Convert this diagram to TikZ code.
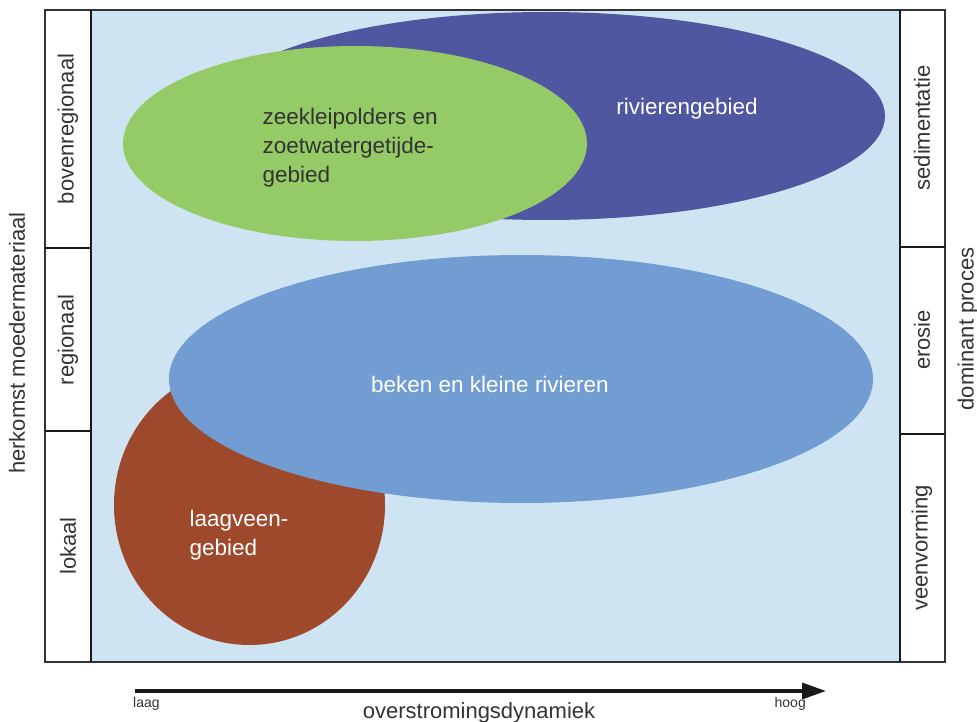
\documentclass[tikz,border=0pt]{standalone}
\usepackage{fontspec}
\setmainfont{Liberation Sans}
\usepackage{tikz}
\usetikzlibrary{arrows.meta}

\definecolor{veldblauw}{HTML}{CFE4F3}
\definecolor{rivierblauw}{HTML}{4E57A0}
\definecolor{kleigroen}{HTML}{95CB66}
\definecolor{bekenblauw}{HTML}{729DD2}
\definecolor{veenbruin}{HTML}{9E482C}
\definecolor{tekstgrijs}{HTML}{333333}

\tikzset{
    kolomtekst/.style={rotate=90, text=tekstgrijs, font=\fontsize{22}{26}\selectfont},
    vlaktekst/.style={align=left, anchor=north west, font=\fontsize{22.5}{29}\selectfont},
    astekst/.style={text=tekstgrijs, font=\fontsize{14}{16}\selectfont}
}

\begin{document}
\begin{tikzpicture}[x=1pt,y=-1pt]
    \useasboundingbox (0,0) rectangle (977,722);

    % draw background field
    \fill[veldblauw] (91,10) rectangle (900,662);

    % draw areas
    \fill[veenbruin] (249.5,505) ellipse [x radius=135.5, y radius=140];
    \fill[bekenblauw] (521,379) ellipse [x radius=352, y radius=124];
    \fill[rivierblauw] (546,116) ellipse [x radius=339, y radius=104];
    \fill[kleigroen] (355,143.5) ellipse [x radius=232, y radius=97.5];

    % draw frame and columns
    \draw[black!80, line width=1.5pt] (45,10) rectangle (945,662);
    \draw[black!90, line width=2pt] (91,10) -- (91,662);
    \draw[black!90, line width=2pt] (900,10) -- (900,662);
    \draw[black!90, line width=2pt] (45,248) -- (91,248);
    \draw[black!90, line width=2pt] (45,431) -- (91,431);
    \draw[black!90, line width=2pt] (900,247) -- (945,247);
    \draw[black!90, line width=2pt] (900,434) -- (945,434);

    % draw area labels
    \node[vlaktekst, text=tekstgrijs] (klei) at (259,105) {zeekleipolders en\\zoetwatergetijde-\\gebied};
    \node[vlaktekst, text=white, anchor=center] (rivier) at (687,109) {rivierengebied};
    \node[vlaktekst, text=white, anchor=center] (beken) at (490,384) {beken en kleine rivieren};
    \node[vlaktekst, text=white] (veen) at (186,507) {laagveen-\\gebied};

    % draw column labels
    \node[kolomtekst] (boven) at (68,129) {bovenregionaal};
    \node[kolomtekst] (regio) at (68,340) {regionaal};
    \node[kolomtekst] (lokaal) at (68,546) {lokaal};
    \node[kolomtekst] (sedi) at (922,128) {sedimentatie};
    \node[kolomtekst] (erosie) at (922,340) {erosie};
    \node[kolomtekst] (veenv) at (922,548) {veenvorming};
    \node[kolomtekst] (herkomst) at (17,343) {herkomst moedermateriaal};
    \node[kolomtekst] (proces) at (968,329) {dominant proces};

    % draw axis
    \coordinate (laagpunt) at (135,691);
    \coordinate (hoogpunt) at (826,691);
    \draw[line width=3.5pt, black!90, -{Triangle[length=24pt,width=16pt]}] (laagpunt) -- (hoogpunt);
    \node[astekst, anchor=north west, inner sep=0pt] (laag) at (133,697) {laag};
    \node[astekst, anchor=north east, inner sep=0pt] (hoog) at (806,697) {hoog};
    \node[kolomtekst, rotate=-90] (dynamiek) at (479,713) {overstromingsdynamiek};
\end{tikzpicture}
\end{document}
